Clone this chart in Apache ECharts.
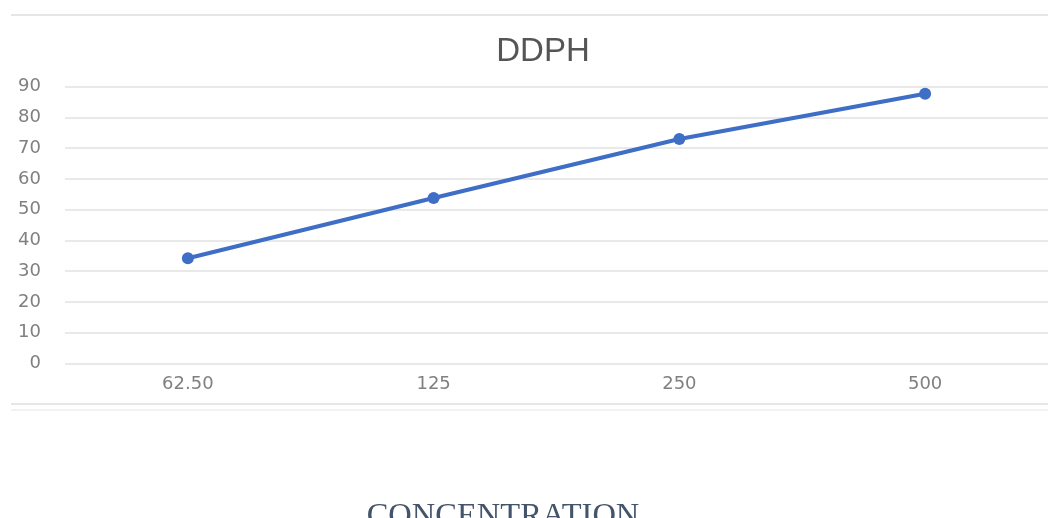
<!DOCTYPE html>
<html>
<head>
<meta charset="utf-8">
<script src="https://cdn.jsdelivr.net/npm/echarts@6/dist/echarts.min.js"></script>
<style>html,body{margin:0;padding:0;background:#fff;}#c{width:1048px;height:518px;}</style>
</head>
<body>
<div id="c"></div>
<script>
const categories = ['62.50', '125', '250', '500'];
const ddphValues = [34.2, 53.8, 73, 87.7];
const yTicks = { min: 0, max: 90, interval: 10 };

const chart = echarts.init(document.getElementById('c'), null, { renderer: 'canvas' });
chart.setOption({
  backgroundColor: '#ffffff',
  animation: false,
  title: [
    { text: 'DDPH', left: 538, top: 30, textAlign: 'center',
      textStyle: { fontFamily: 'Liberation Sans, Arial, sans-serif', fontSize: 33, fontWeight: 'normal', color: '#555555' } },
    { text: 'CONCENTRATION', left: 498, top: 495, textAlign: 'center',
      textStyle: { fontFamily: 'Liberation Serif, Times New Roman, serif', fontSize: 32.5, fontWeight: 'normal', color: '#44546A' } }
  ],
  graphic: [
    { type: 'line', shape: { x1: 11, y1: 15, x2: 1048, y2: 15 }, style: { stroke: '#e6e6e6', lineWidth: 2 } },
    { type: 'line', shape: { x1: 11, y1: 404, x2: 1048, y2: 404 }, style: { stroke: '#e6e6e6', lineWidth: 2 } },
    { type: 'line', shape: { x1: 11, y1: 410, x2: 1048, y2: 410 }, style: { stroke: '#eeeeee', lineWidth: 1.5 } }
  ],
  grid: { left: 65, right: 0, top: 86.7, bottom: 154.7 },
  xAxis: {
    type: 'category',
    data: categories,
    boundaryGap: true,
    axisLine: { show: false },
    axisTick: { show: false },
    axisLabel: { margin: 12, fontSize: 18, color: '#808080', fontFamily: 'DejaVu Sans, sans-serif' }
  },
  yAxis: {
    type: 'value',
    min: yTicks.min, max: yTicks.max, interval: yTicks.interval,
    axisLine: { show: false },
    axisTick: { show: false },
    axisLabel: { margin: 24, fontSize: 18, color: '#808080', fontFamily: 'DejaVu Sans, sans-serif', align: 'right' },
    splitLine: { lineStyle: { color: '#e2e2e2', width: 1.5 } }
  },
  series: [{
    type: 'line',
    data: ddphValues,
    symbol: 'circle',
    symbolSize: 12,
    lineStyle: { color: '#3F6EC6', width: 4 },
    itemStyle: { color: '#3F6EC6' }
  }]
});
</script>
</body>
</html>
